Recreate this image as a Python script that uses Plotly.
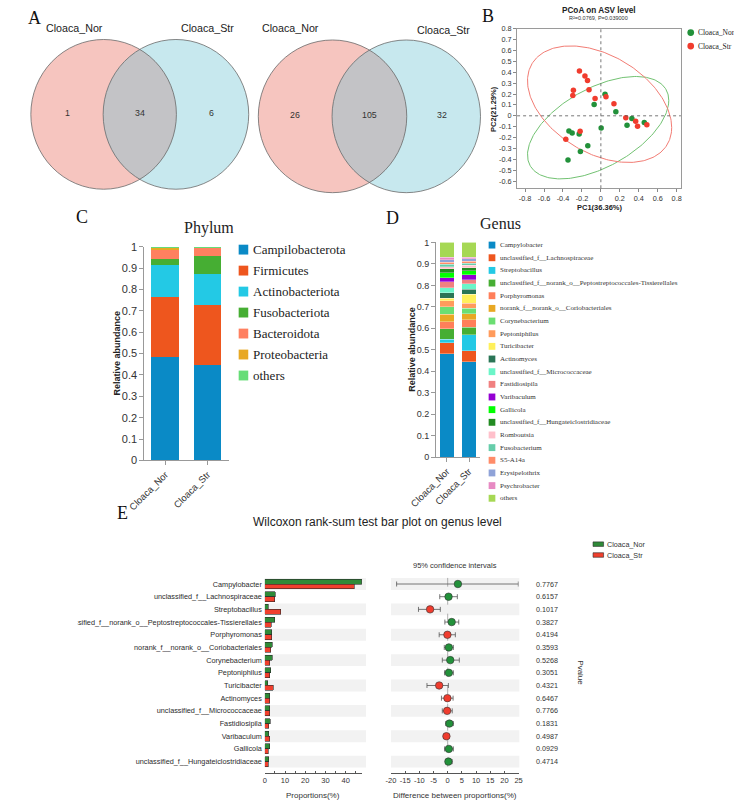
import numpy as np
import plotly.graph_objects as go

W, H = 734, 806
SANS = "Liberation Sans, Arial, sans-serif"
SERIF = "Liberation Serif, Times New Roman, serif"

# ---------------- data ----------------
venn_groups = ["Cloaca_Nor", "Cloaca_Str"]
venn1_counts = [1, 34, 6]        # only Nor, shared, only Str
venn2_counts = [26, 105, 32]

pcoa_title = "PCoA on ASV level"
pcoa_subtitle = "R²=0.0769, P=0.039000"
pcoa_xlabel = "PC1(36.36%)"
pcoa_ylabel = "PC2(21.29%)"
nor_pc1 = [0.044, -0.071, 0.158, 0.327, 0.458, 0.276, 0.003, -0.337, -0.303, -0.229, -0.138, -0.216, -0.347]
nor_pc2 = [0.198, 0.104, 0.038, -0.025, -0.061, -0.088, -0.112, -0.139, -0.157, -0.167, -0.275, -0.329, -0.407]
str_pc1 = [-0.226, -0.168, -0.141, -0.290, -0.296, -0.125, -0.061, 0.054, 0.138, 0.263, 0.367, 0.387, 0.485, -0.219, -0.370]
str_pc2 = [0.411, 0.366, 0.324, 0.234, 0.186, 0.240, 0.159, 0.174, 0.111, -0.019, -0.049, -0.097, -0.082, -0.142, -0.215]
pcoa_xticks = [-0.8, -0.6, -0.4, -0.2, 0, 0.2, 0.4, 0.6, 0.8]
pcoa_yticks = [-0.6, -0.5, -0.4, -0.3, -0.2, -0.1, 0, 0.1, 0.2, 0.3, 0.4, 0.5, 0.6, 0.7, 0.8]
f_crit_95 = {13: 3.885, 15: 3.739}   # qf(0.95, 2, n-1)

samples = ["Cloaca_Nor", "Cloaca_Str"]
phyla = ["Campilobacterota", "Firmicutes", "Actinobacteriota", "Fusobacteriota",
         "Bacteroidota", "Proteobacteria", "others"]
phylum_nor = [0.482, 0.281, 0.151, 0.026, 0.044, 0.013, 0.003]
phylum_str = [0.445, 0.284, 0.143, 0.083, 0.042, 0.002, 0.001]
phylum_colors = ["#0A8AC6", "#EE561E", "#23C9E5", "#46AE33", "#FF8060", "#E8A824", "#66DD77"]

genera = ["Campylobacter", "unclassified_f__Lachnospiraceae", "Streptobacillus",
          "unclassified_f__norank_o__Peptostreptococcales-Tissierellales", "Porphyromonas",
          "norank_f__norank_o__Coriobacteriales", "Corynebacterium", "Peptoniphilus",
          "Turicibacter", "Actinomyces", "unclassified_f__Micrococcaceae", "Fastidiosipila",
          "Varibaculum", "Gallicola", "unclassified_f__Hungateiclostridiaceae", "Romboutsia",
          "Fusobacterium", "S5-A14a", "Erysipelothrix", "Psychrobacter", "others"]
genus_nor = [0.482, 0.052, 0.016, 0.048, 0.032, 0.035, 0.035, 0.029, 0.011, 0.025, 0.024,
             0.028, 0.019, 0.023, 0.019, 0.009, 0.011, 0.009, 0.012, 0.012, 0.069]
genus_str = [0.445, 0.050, 0.075, 0.036, 0.033, 0.029, 0.025, 0.024, 0.041, 0.023, 0.026,
             0.020, 0.022, 0.018, 0.015, 0.012, 0.010, 0.009, 0.011, 0.006, 0.070]
genus_colors = ["#0A8AC6", "#EE561E", "#23C9E5", "#46AE33", "#FF7F5A", "#E8A824", "#6BDE72",
                "#FF9B5C", "#FFF05A", "#2A7556", "#6BF5C8", "#F08080", "#9400D3", "#00FF00",
                "#228B22", "#FFC0CB", "#66CDAA", "#FF8C69", "#8FA3D8", "#E78AC3", "#A6D854"]

wil_title = "Wilcoxon rank-sum test bar plot on genus level"
wil_genera = ["Campylobacter", "unclassified_f__Lachnospiraceae", "Streptobacillus",
              "unclassified_f__norank_o__Peptostreptococcales-Tissierellales", "Porphyromonas",
              "norank_f__norank_o__Coriobacteriales", "Corynebacterium", "Peptoniphilus",
              "Turicibacter", "Actinomyces", "unclassified_f__Micrococcaceae", "Fastidiosipila",
              "Varibaculum", "Gallicola", "unclassified_f__Hungateiclostridiaceae"]
wil_prop_nor = [47.9, 5.2, 1.6, 4.9, 3.5, 3.6, 3.6, 3.0, 1.4, 2.5, 2.5, 2.8, 2.0, 2.4, 2.0]
wil_prop_str = [44.3, 4.9, 7.8, 3.3, 3.5, 3.0, 2.5, 2.4, 4.2, 2.5, 2.5, 2.0, 2.5, 1.7, 1.7]
wil_diff = [3.6, 0.3, -6.2, 1.4, -0.1, 0.4, 0.9, 0.4, -3.0, -0.1, -0.2, 0.6, -0.45, 0.4, 0.25]
wil_ci_low = [-18.0, -2.8, -10.3, -1.0, -3.0, -1.2, -1.9, -1.1, -7.3, -2.2, -1.9, -0.7, -1.35, -1.1, -0.7]
wil_ci_high = [24.9, 3.4, -2.6, 3.9, 2.7, 2.0, 4.1, 2.0, 0.25, 1.9, 1.6, 2.0, 0.45, 2.0, 1.6]
wil_pvalues = ["0.7767", "0.6157", "0.1017", "0.3827", "0.4194", "0.3593", "0.5268", "0.3051",
               "0.4321", "0.6467", "0.7766", "0.1831", "0.4987", "0.0929", "0.4714"]
prop_ticks = [0, 5, 10, 15, 20, 25, 30, 35, 40, 45]
prop_ticklabels = ["0", "", "10", "", "20", "", "30", "", "40", ""]
diff_ticks = [-20, -15, -10, -5, 0, 5, 10, 15, 20, 25]

GREEN_PT, RED_PT = "#22913A", "#F03C2E"
GREEN_BAR, RED_BAR = "#2F8A38", "#F0402E"


def px(x):
    return x / W


def py(y):
    return 1 - y / H


def fmt(v):
    return f"{round(v, 2):g}"


fig = go.Figure()
shapes, annos = [], []


def text(x, y, s, size, family=SANS, color="#222", xanchor="center", yanchor="middle",
         angle=0, bold=False):
    if bold:
        s = f"<b>{s}</b>"
    annos.append(dict(x=px(x), y=py(y), xref="paper", yref="paper", text=s, showarrow=False,
                      xanchor=xanchor, yanchor=yanchor, textangle=angle,
                      font=dict(size=size, family=family, color=color)))


# ---------------- panel A : Venn ----------------
def lens_path(c1x, c2x, cy, r1, r2, n=80):
    d = c2x - c1x
    a = (d * d + r1 * r1 - r2 * r2) / (2 * d)
    h = np.sqrt(r1 * r1 - a * a)
    t1 = np.arctan2(h, a)
    t2 = np.arctan2(h, d - a)
    th1 = np.linspace(-t1, t1, n)
    th2 = np.linspace(np.pi - t2, np.pi + t2, n)
    xs = np.concatenate([c1x + r1 * np.cos(th1), c2x + r2 * np.cos(th2)])
    ys = np.concatenate([cy + r1 * np.sin(th1), cy + r2 * np.sin(th2)])
    return "M" + " L".join(f"{px(a_):.5f},{py(b_):.5f}" for a_, b_ in zip(xs, ys)) + " Z"


venn_specs = [
    dict(c1=80, c2=155.5, cy=110, r1=76, r2=76, counts=venn1_counts,
         lab=[(50, 22), (188, 22)], num_x=[42, 118, 193]),
    dict(c1=319, c2=396, cy=112, r1=77.5, r2=77.5, counts=venn2_counts,
         lab=[(275, 22), (435, 24)], num_x=[280, 358, 433]),
]
for v in venn_specs:
    for cx, r, col in [(v["c1"], v["r1"], "#F6C5BF"), (v["c2"], v["r2"], "#C7E8EE")]:
        shapes.append(dict(type="circle", xref="paper", yref="paper", x0=px(cx - r), x1=px(cx + r),
                           y0=py(v["cy"] + r), y1=py(v["cy"] - r), fillcolor=col,
                           line=dict(width=0), layer="above"))
    shapes.append(dict(type="path", xref="paper", yref="paper",
                       path=lens_path(v["c1"], v["c2"], v["cy"], v["r1"], v["r2"]),
                       fillcolor="#C3C3C6", line=dict(width=0), layer="above"))
    for cx, r in [(v["c1"], v["r1"]), (v["c2"], v["r2"])]:
        shapes.append(dict(type="circle", xref="paper", yref="paper", x0=px(cx - r), x1=px(cx + r),
                           y0=py(v["cy"] + r), y1=py(v["cy"] - r),
                           line=dict(width=0.8, color="#6A6A6A"), layer="above"))
    for (lx, ly), g in zip(v["lab"], venn_groups):
        text(lx, ly, g, 10.7)
    for nx, c in zip(v["num_x"], v["counts"]):
        text(nx, v["cy"] - 1, str(c), 8.8, color="#333")


# ---------------- panel B : PCoA ----------------
def ellipse(x, y, n_seg=240):
    x = np.asarray(x, float)
    y = np.asarray(y, float)
    loc = np.array([x.mean(), y.mean()])
    cov = np.cov(x, y)
    radius = np.sqrt(2 * f_crit_95[len(x)])
    t = np.linspace(0, 2 * np.pi, n_seg)
    circ = np.column_stack([np.cos(t), np.sin(t)])
    L = np.linalg.cholesky(cov)
    pts = loc + radius * circ @ L.T
    return pts[:, 0], pts[:, 1]


for xs_, ys_, col in [(nor_pc1, nor_pc2, "#72C272"), (str_pc1, str_pc2, "#F27C74")]:
    ex, ey = ellipse(xs_, ys_)
    fig.add_trace(go.Scatter(x=ex, y=ey, mode="lines", line=dict(color=col, width=1),
                             xaxis="x", yaxis="y", showlegend=False, hoverinfo="skip"))
fig.add_trace(go.Scatter(x=nor_pc1, y=nor_pc2, mode="markers", xaxis="x", yaxis="y", showlegend=False,
                         marker=dict(size=5.5, color=GREEN_PT)))
fig.add_trace(go.Scatter(x=str_pc1, y=str_pc2, mode="markers", xaxis="x", yaxis="y", showlegend=False,
                         marker=dict(size=5.5, color=RED_PT)))
shapes.append(dict(type="line", xref="x", yref="y domain", x0=0, x1=0, y0=0, y1=1,
                   line=dict(color="#555", width=0.8, dash="dot")))
shapes.append(dict(type="line", xref="x domain", yref="y", x0=0, x1=1, y0=0, y1=0,
                   line=dict(color="#555", width=0.8, dash="dot")))
text(597, 5, pcoa_title, 8.2, bold=True)
text(597, 12.5, pcoa_subtitle, 5.5, color="#333")
text(598, 205, pcoa_xlabel, 7.5, bold=True)
text(487, 104, pcoa_ylabel, 7.5, bold=True, angle=-90)
for i, (g, col) in enumerate(zip(venn_groups, [GREEN_PT, RED_PT])):
    cy = 27 + 13.7 * i
    shapes.append(dict(type="circle", xref="paper", yref="paper", x0=px(689.5), x1=px(696.5),
                       y0=py(cy + 3.5), y1=py(cy - 3.5), fillcolor=col, line=dict(width=0)))
    text(698, cy, g, 7.5, family=SERIF, xanchor="left")

# ---------------- panel C : phylum ----------------
for name, a, b, col in zip(phyla, phylum_nor, phylum_str, phylum_colors):
    fig.add_trace(go.Bar(x=samples, y=[a, b], marker=dict(color=col, line=dict(width=0)),
                         xaxis="x2", yaxis="y2", showlegend=False, name=name))
for i, (name, col) in enumerate(zip(phyla, phylum_colors)):
    cy = 247.3 + 21.3 * i
    shapes.append(dict(type="rect", xref="paper", yref="paper", x0=px(221), x1=px(231),
                       y0=py(cy + 5), y1=py(cy - 5), fillcolor=col, line=dict(width=0)))
    text(234, cy, name, 13, family=SERIF, xanchor="left")
text(190, 225, "Phylum", 16, family=SERIF)
text(93, 352.8, "Relative abundance", 9, bold=True, angle=-90)

# ---------------- panel D : genus ----------------
for name, a, b, col in zip(genera, genus_nor, genus_str, genus_colors):
    fig.add_trace(go.Bar(x=samples, y=[a, b], marker=dict(color=col, line=dict(width=0.3, color="white")),
                         xaxis="x3", yaxis="y3", showlegend=False, name=name))
for i, (name, col) in enumerate(zip(genera, genus_colors)):
    cy = 242.7 + 12.85 * i
    shapes.append(dict(type="rect", xref="paper", yref="paper", x0=px(482), x1=px(489),
                       y0=py(cy + 3.5), y1=py(cy - 3.5), fillcolor=col, line=dict(width=0)))
    text(491.5, cy, name, 7, family=SERIF, xanchor="left", color="#333")
text(494, 221, "Genus", 16, family=SERIF)
text(402, 349, "Relative abundance", 9, bold=True, angle=-90)

# ---------------- panel E : Wilcoxon ----------------
rows = np.arange(len(wil_genera))
for i in rows[::2]:
    for x0, x1 in [(248.3, 354), (380, 514)]:
        shapes.append(dict(type="rect", xref="paper", yref="y4", x0=px(x0), x1=px(x1),
                           y0=i - 0.47, y1=i + 0.47, fillcolor="#F2F2F2", line=dict(width=0),
                           layer="below"))
fig.add_trace(go.Bar(y=rows - 0.195, x=wil_prop_nor, orientation="h", width=0.39,
                     marker=dict(color=GREEN_BAR, line=dict(color="#2A2A2A", width=0.6)),
                     xaxis="x4", yaxis="y4", showlegend=False, name=samples[0]))
fig.add_trace(go.Bar(y=rows + 0.195, x=wil_prop_str, orientation="h", width=0.39,
                     marker=dict(color=RED_BAR, line=dict(color="#2A2A2A", width=0.6)),
                     xaxis="x4", yaxis="y4", showlegend=False, name=samples[1]))
diff = np.array(wil_diff)
pt_colors = [GREEN_PT if d > 0 else RED_PT for d in diff]
fig.add_trace(go.Scatter(x=diff, y=rows, mode="markers", xaxis="x5", yaxis="y4", showlegend=False,
                         marker=dict(size=7.5, color=pt_colors, line=dict(color="#333", width=0.6)),
                         error_x=dict(type="data", symmetric=False,
                                      array=np.array(wil_ci_high) - diff,
                                      arrayminus=diff - np.array(wil_ci_low),
                                      color="#555", thickness=0.8, width=2.5)))
shapes.append(dict(type="line", xref="x5", yref="y4", x0=0, x1=0, y0=-0.5, y1=len(rows) - 0.5,
                   line=dict(color="#999", width=0.8, dash="dash"), layer="below"))
# the original panel E image is cut at its left border
shapes.append(dict(type="rect", xref="paper", yref="paper", x0=0, x1=px(53), y0=py(782), y1=py(578),
                   fillcolor="white", line=dict(width=0), layer="above"))
for i, p in zip(rows, wil_pvalues):
    annos.append(dict(x=px(529), y=float(i), xref="paper", yref="y4", text=p, showarrow=False,
                      xanchor="left", yanchor="middle", font=dict(size=7.2, family=SANS, color="#333")))
text(577, 677, "Pvalue", 8, angle=90, color="#333")
text(365.5, 524, wil_title, 12)
text(447, 568, "95% confidence intervals", 7.5, color="#333")
text(299, 801, "Proportions(%)", 8, color="#333")
text(447, 801, "Difference between proportions(%)", 8, color="#333")
for i, (g, col) in enumerate(zip(samples, [GREEN_BAR, RED_BAR])):
    cy = 546.3 + 11 * i
    shapes.append(dict(type="rect", xref="paper", yref="paper", x0=px(591), x1=px(602),
                       y0=py(cy + 2.3), y1=py(cy - 2.3), fillcolor=col,
                       line=dict(color="#2A2A2A", width=0.6)))
    text(604, cy, g, 7.2, xanchor="left", color="#333")

# ---------------- panel letters ----------------
for L, (x, y) in zip("ABCDE", [(8, 12), (481, 10), (57, 214), (382, 215), (100, 515)]):
    text(x, y, L, 18, family=SERIF, color="#111")

tickf = dict(family=SANS, color="#333")
layout_axes = dict(
    xaxis=dict(domain=[px(511.7), px(682.7)], range=[-0.884, 0.844], anchor="y",
               tickvals=pcoa_xticks, ticktext=[fmt(v) for v in pcoa_xticks],
               ticks="outside", ticklen=3, tickcolor="#888", showline=True, mirror=True,
               linecolor="#9A9A9A", linewidth=1, showgrid=False, zeroline=False,
               tickfont=dict(size=7.3, **tickf)),
    yaxis=dict(domain=[py(185), py(22.9)], range=[-0.666, 0.802], anchor="x",
               tickvals=pcoa_yticks, ticktext=[fmt(v) for v in pcoa_yticks],
               ticks="outside", ticklen=3, tickcolor="#888", showline=True, mirror=True,
               linecolor="#9A9A9A", linewidth=1, showgrid=False, zeroline=False,
               tickfont=dict(size=7.3, **tickf)),
    xaxis2=dict(domain=[px(122.5), px(210.5)], anchor="y2", type="category", range=[-0.5, 1.5],
                showline=True, linecolor="#999", ticks="outside", ticklen=4, tickcolor="#999",
                tickangle=-45, tickfont=dict(size=9.5, **tickf), showgrid=False),
    yaxis2=dict(domain=[py(461.3), py(244.3)], anchor="x2", range=[0, 1], tick0=0, dtick=0.1,
                showline=True, linecolor="#999", ticks="outside", ticklen=4, tickcolor="#999",
                tickfont=dict(size=11, **tickf), showgrid=False, zeroline=False),
    xaxis3=dict(domain=[px(427), px(473)], anchor="y3", type="category", range=[-0.5, 1.5],
                showline=True, linecolor="#999", ticks="outside", ticklen=4, tickcolor="#999",
                tickangle=-45, tickfont=dict(size=9.5, **tickf), showgrid=False),
    yaxis3=dict(domain=[py(458), py(240)], anchor="x3", range=[0, 1], tick0=0, dtick=0.1,
                showline=True, linecolor="#999", ticks="outside", ticklen=4, tickcolor="#999",
                tickfont=dict(size=9, **tickf), showgrid=False, zeroline=False),
    xaxis4=dict(domain=[px(248.3), px(349.6)], anchor="y4", range=[0, 48],
                tickvals=prop_ticks, ticktext=prop_ticklabels, ticks="inside", ticklen=3,
                tickcolor="#555", showline=True, linecolor="#555", linewidth=0.8,
                tickfont=dict(size=7.5, **tickf), showgrid=False, zeroline=False),
    yaxis4=dict(domain=[py(779), py(580.3)], anchor="x4", range=[14.93, -0.5],
                tickvals=rows.tolist(), ticktext=wil_genera, ticks="", showline=False,
                tickfont=dict(size=7.3, family=SANS, color="#2b2b2b"), showgrid=False,
                zeroline=False, ticklabelstandoff=2),
    xaxis5=dict(domain=[px(380), px(513.3)], anchor="y4", range=[-20, 25],
                tickvals=diff_ticks, ticktext=[str(v) for v in diff_ticks], ticks="inside",
                ticklen=3, tickcolor="#555", showline=True, linecolor="#555", linewidth=0.8,
                tickfont=dict(size=7.5, **tickf), showgrid=False, zeroline=False),
)

fig.update_layout(
    width=W, height=H, margin=dict(l=0, r=0, t=0, b=0),
    paper_bgcolor="white", plot_bgcolor="rgba(0,0,0,0)",
    barmode="stack", bargap=0.34, showlegend=False,
    shapes=shapes, annotations=annos, font=dict(family=SANS),
    **layout_axes,
)

fig.write_html("out.html", config={"displayModeBar": False},
               post_script="document.body.style.margin='0';")
